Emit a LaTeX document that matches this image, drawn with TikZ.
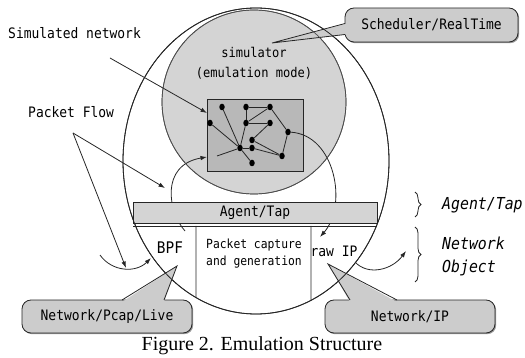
\documentclass[tikz,border=0pt]{standalone}
\usepackage{fontspec}
\setmainfont{Liberation Serif}
\newfontfamily\gul[FakeStretch=0.9]{DejaVu Sans Mono}
\usetikzlibrary{arrows.meta,decorations.pathreplacing,shapes.geometric,intersections}

\begin{document}
\begin{tikzpicture}[x=1pt,y=-1pt,
  ln/.style={draw=black!85, line width=0.8pt},
  tip/.style={ln, -{Latex[length=6.5pt,width=4.5pt]}},
  dot/.style={ellipse, fill=black, inner sep=0pt, minimum width=5.5pt, minimum height=6.5pt},
  callfill/.style={fill=black!20},
  shade/.style={fill=black!40, rounded corners=9pt},
  lbl/.style={inner sep=0pt, font=\gul\fontsize{14.4}{16}\selectfont},
  small/.style={inner sep=0pt, font=\gul\fontsize{12.6}{17}\selectfont},
  side/.style={inner sep=0pt, font=\gul\itshape\fontsize{16.5}{23}\selectfont, align=left},
  brc/.style={ln, decorate, decoration={brace, amplitude=6pt}},
  outerline/.style={ln}
]
\useasboundingbox (0,0) rectangle (525,358);

% outer object boundary
\path[outerline, name path=outer] (256,161) ellipse [x radius=133pt, y radius=153pt];

% simulator
\node[circle, draw=black!70, line width=0.7pt, fill=black!17, minimum size=184pt, inner sep=0pt] (sim) at (254,102) {};
\node[lbl, font=\gul\fontsize{13.4}{16}\selectfont] (simtxt) at (254,52) {simulator};
\node[lbl, font=\gul\fontsize{13.4}{16}\selectfont] (emtxt) at (254,73) {(emulation mode)};

% simulated network
\node[draw=black!85, line width=0.8pt, fill=black!28, minimum width=96pt, minimum height=72pt, inner sep=0pt] (netbox) at (255,135) {};
\node[dot] (n1) at (222,107) {};
\node[dot] (n2) at (246,107) {};
\node[dot] (n3) at (270,107) {};
\node[dot] (n4) at (210,123) {};
\node[dot] (n5) at (246,123) {};
\node[dot] (n6) at (270,123) {};
\node[dot] (n7) at (288,132) {};
\node[dot] (n8) at (252,140) {};
\node[dot] (n9) at (240,148) {};
\node[dot] (n10) at (252,148) {};
\node[dot] (n11) at (282,156) {};
\node[dot] (n12) at (252,163) {};
\coordinate (stub) at (217,156);
\foreach \a/\b in {n1/n9, n4/n9, n2/n5, n2/n3, n5/n6, n5/n3, n5/n9, n9/n12,
                   stub/n9, n9/n10, n10/n11, n8/n6, n8/n11, n3/n7, n7/n11}
  \draw[ln] (\a) -- (\b);

% labels and packet flow arrows
\node[lbl, anchor=west] (simnet) at (8,33) {Simulated network};
\node[lbl, anchor=west] (pflow) at (28,112) {Packet Flow};
\coordinate (snfrom) at (110,58);
\coordinate (snto) at (207,113);
\draw[tip] (snfrom) -- (snto);
\coordinate (pfv) at (73,133);
\coordinate (pfa) at (165,188);
\coordinate (pfb) at (126,268);
\draw[tip] (pfv) -- (pfa);
\draw[tip] (pfv) -- (pfb);
\coordinate (inl) at (100,255);
\coordinate (inr) at (151,258);
\draw[tip] (inl) .. controls (112,272) and (136,273) .. (inr);

% flows through the tap
\coordinate (bpfup) at (185,231);
\coordinate (boxin) at (207,157);
\draw[tip] (bpfup) .. controls (168,212) and (160,165) .. (boxin);
\coordinate (rawin) at (320,237);
\draw[tip] (n7) .. controls (335,135) and (348,205) .. (rawin);
\coordinate (rawout) at (355,262);
\coordinate (netobj) at (406,251);
\draw[tip] (rawout) .. controls (368,276) and (392,270) .. (netobj);

% agent/tap bar and network object section
\node[draw=black!85, line width=0.8pt, fill=black!17, minimum width=244pt, minimum height=21pt, inner sep=0pt, lbl] (bar) at (255,212.5) {Agent/Tap};
\coordinate (secl) at (133,226);
\coordinate (secr) at (377,226);
\draw[ln] (secl) -- (secr);
\path[name path=v1] (196,226) -- (196,330);
\path[name path=v2] (311,226) -- (311,330);
\path[name intersections={of=outer and v1, by=b1}];
\path[name intersections={of=outer and v2, by=b2}];
\coordinate (t1) at (196,226);
\coordinate (t2) at (311,226);
\draw[ln] (t1) -- (b1);
\draw[ln] (t2) -- (b2);
\node[inner sep=0pt, font=\gul\fontsize{16}{18}\selectfont] (bpf) at (170,248) {BPF};
\node[small, align=center] (pcg) at (254,254) {Packet capture\\and generation};
\node[lbl] (raw) at (334,251) {raw IP};

% braces on the right
\coordinate (br1a) at (415,192);
\coordinate (br1b) at (415,217);
\coordinate (br2a) at (415,227);
\coordinate (br2b) at (415,282);
\draw[brc] (br1a) -- (br1b);
\draw[brc] (br2a) -- (br2b);
\node[side, anchor=west] (agtap) at (442,205) {Agent/Tap};
\node[side, anchor=west] (netobjtxt) at (442,256) {Network\\Object};

% callouts
\fill[shade] (346.2,9.2) rectangle (519.2,43.2);
\node[draw=black!85, line width=0.8pt, callfill, rounded corners=9pt, minimum width=173pt, minimum height=34pt, inner sep=0pt, lbl] (sched) at (431.5,25) {Scheduler/RealTime};
\coordinate (schtip) at (272,43);
\fill[callfill] (347,23.5) -- (schtip) -- (347,34.5) -- cycle;
\draw[ln] (345,23.5) -- (schtip) -- (345,34.5);

\fill[shade] (23.2,301.2) rectangle (193.2,334.2);
\node[draw=black!85, line width=0.8pt, callfill, rounded corners=9pt, minimum width=170pt, minimum height=33pt, inner sep=0pt, lbl] (pcap) at (107,316.5) {Network/Pcap/Live};
\coordinate (pctip) at (177,266);
\fill[callfill] (122,302) -- (pctip) -- (164,302) -- cycle;
\draw[ln] (122,300) -- (pctip) -- (164,300);

\fill[shade] (326.2,301.2) rectangle (496.2,334.2);
\node[draw=black!85, line width=0.8pt, callfill, rounded corners=9pt, minimum width=170pt, minimum height=33pt, inner sep=0pt, lbl] (nip) at (410,316.5) {Network/IP};
\coordinate (iptip) at (328,264);
\fill[callfill] (350,302) -- (iptip) -- (397,302) -- cycle;
\draw[ln] (350,300) -- (iptip) -- (397,300);

% boundaries stroked again over the callout pointers
\draw[outerline] (256,161) ellipse [x radius=133pt, y radius=153pt];
\draw[draw=black!70, line width=0.7pt] (sim.center) circle[radius=92pt];

% caption
\node[inner sep=0pt, font=\fontsize{20}{24}\selectfont] (cap) at (262,346) {Figure 2. Emulation Structure};
\end{tikzpicture}
\end{document}
